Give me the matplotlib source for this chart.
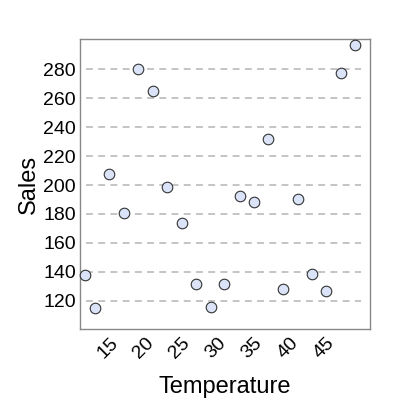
import matplotlib
matplotlib.use("Agg")
import matplotlib.pyplot as plt

plt.rcParams['font.family'] = ['Liberation Sans', 'DejaVu Sans']

# data
temperature = [11.8, 13.2, 15.2, 17.2, 19.2, 21.2, 23.2, 25.3, 27.25, 29.3,
               31.2, 33.3, 35.3, 37.3, 39.3, 41.4, 43.4, 45.35, 47.4, 49.3]
sales = [137.9, 114.7, 207.3, 180.6, 280, 265, 198.5, 173.5, 131.6, 115.3,
         131.2, 192.6, 188.0, 231.6, 128.0, 190.3, 138.6, 126.4, 277.3, 296.9]
x_ticks = [15, 20, 25, 30, 35, 40, 45]
y_ticks = [120, 140, 160, 180, 200, 220, 240, 260, 280]

fig = plt.figure(figsize=(4, 4), dpi=100)
ax = fig.add_axes([0.2, 0.1775, 0.725, 0.725])

# dashed horizontal guides, a bit short of the frame
for y in y_ticks:
    ax.axhline(y, xmin=0.02, xmax=0.97, color='#b4b4b4', lw=1.1,
               ls=(0, (4.5, 3.5)), zorder=1)

ax.scatter(temperature, sales, s=58, facecolor='#dae3f7', edgecolor='#333333',
           linewidth=0.8, zorder=3, clip_on=False)

ax.set_xlim(11.1, 51.45)
ax.set_ylim(100.3, 301.1)
ax.set_xticks(x_ticks)
ax.set_yticks(y_ticks)
ax.tick_params(length=0, labelsize=14, pad=3)
ax.tick_params(axis='x', labelrotation=45, pad=4)

for s in ax.spines.values():
    s.set_color('#888888')
    s.set_linewidth(1.0)

ax.set_xlabel('Temperature', fontsize=17, labelpad=10)
ax.set_ylabel('Sales', fontsize=17, labelpad=2)

fig.savefig('out.png', dpi=100)
